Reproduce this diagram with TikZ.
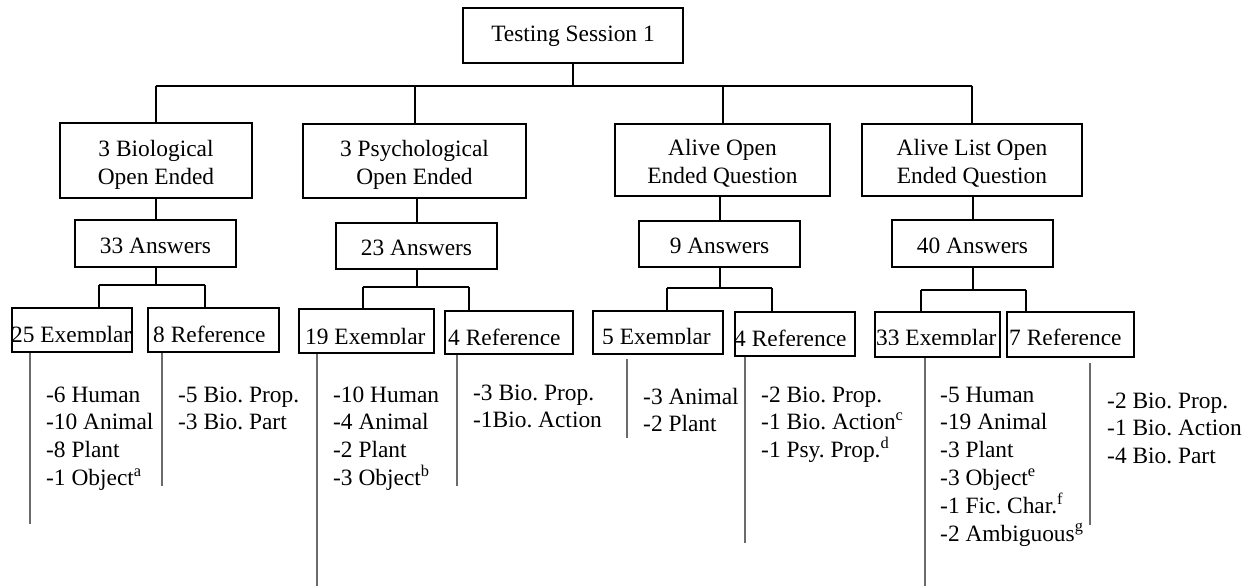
\documentclass[tikz,border=0pt]{standalone}
\usepackage{fontspec}
\setmainfont{Liberation Serif}
\usetikzlibrary{calc}
\frenchspacing

% framed box given by its corners, text centred and lowered by #7
\newcommand\framedbox[7]{%
  \node[framebox, minimum width={(#4-#2)*1pt}, minimum height={(#5-#3)*1pt}]
    (#1) at ({(#2+#4)/2},{(#3+#5)/2}) {};
  \node[inner sep=0pt, align=center] (#1-t) at ([yshift=-#7pt]#1.center) {#6};}

% category box whose label is cut off by the frame and just below the baseline
\newcommand\catbox[8]{%
  \begin{scope}
    \clip (#2,#3) rectangle (#4,#7);
    \node[anchor=base west, inner sep=0pt] (#1-t) at (#6,#7+1) {#8};
  \end{scope}
  \node[framebox, minimum width={(#4-#2)*1pt}, minimum height={(#5-#3)*1pt}]
    (#1) at ({(#2+#4)/2},{(#3+#5)/2}) {};}

% tally list: name, x, baseline of first line, number of lines, text
\newcommand\tallylist[5]{%
  \node[listtext] (#1) at (#2,{#3+(#4-1)*27.8}) {#5};}

\begin{document}
\begin{tikzpicture}[x=1pt, y=-1pt,
  every node/.style={font=\fontsize{23.4}{27.8}\selectfont},
  framebox/.style={draw=black, line width=2pt, fill=none, inner sep=0pt},
  link/.style={draw=black, line width=2pt},
  tally/.style={draw=black!58, line width=1.8pt},
  listtext/.style={anchor=base west, inner sep=0pt, align=left}]

\useasboundingbox (0,0) rectangle (1255,586);

% root and question boxes
\framedbox{top}{463}{8}{683}{63}{Testing Session 1}{1}
\framedbox{q1}{60}{123}{252}{198}{3 Biological\\Open Ended}{4}
\framedbox{q2}{303}{124}{526}{198}{3 Psychological\\Open Ended}{4}
\framedbox{q3}{615}{124}{830}{196}{Alive Open\\Ended Question}{3}
\framedbox{q4}{862}{124}{1082}{196}{Alive List Open\\Ended Question}{3}

% answer counts
\framedbox{a1}{75}{220}{236}{267}{33 Answers}{2}
\framedbox{a2}{336}{223}{497}{269}{23 Answers}{2}
\framedbox{a3}{639}{221}{800}{267}{9 Answers}{2}
\framedbox{a4}{892}{220}{1053}{267}{40 Answers}{2}

% exemplar / reference boxes
\catbox{l1}{12}{308}{132}{352}{11}{341}{25 Exemplar}
\catbox{l2}{148}{308}{279}{352}{153}{341}{8 Reference}
\catbox{l3}{299}{309}{434}{353}{305}{343}{19 Exemplar}
\catbox{l4}{445}{311}{573}{354}{448}{344}{4 Reference}
\catbox{l5}{593}{311}{723}{354}{602}{343}{5 Exemplar}
\catbox{l6}{735}{312}{855}{356}{734}{345}{4 Reference}
\catbox{l7}{875}{312}{1000}{357}{876}{344}{33 Exemplar}
\catbox{l8}{1007}{312}{1134}{357}{1009}{344}{7 Reference}

% root to questions
\coordinate (bus) at (0,86);
\draw[link] (top.south) -- (top.south |- bus);
\draw[link] (q1.north |- bus) -- (q4.north |- bus);
\foreach \q in {q1,q2,q3,q4} \draw[link] (\q.north |- bus) -- (\q.north);

% questions to answer counts
\foreach \q/\a in {q1/a1,q2/a2,q3/a3,q4/a4}
  \draw[link] (\q.south -| \a.north) -- (\a.north);

% answer counts to exemplar / reference
\coordinate (b1l) at (99,285);  \coordinate (b1r) at (205,285);
\coordinate (b2l) at (363,287); \coordinate (b2r) at (469,287);
\coordinate (b3l) at (667,288); \coordinate (b3r) at (772,288);
\coordinate (b4l) at (921,290); \coordinate (b4r) at (1026,290);
\foreach \a/\bl/\br/\la/\lb in {a1/b1l/b1r/l1/l2, a2/b2l/b2r/l3/l4,
                                a3/b3l/b3r/l5/l6, a4/b4l/b4r/l7/l8}{
  \draw[link] (\a.south) -- (\a.south |- \bl);
  \draw[link] (\bl) -- (\br);
  \draw[link] (\bl) -- (\bl |- \la.north);
  \draw[link] (\br) -- (\br |- \lb.north);
}

% tally rules under each box
\coordinate (g1) at (30,524);
\coordinate (g2) at (162,486);
\coordinate (g3) at (317,586);
\coordinate (g4) at (457,486);
\coordinate (g5) at (627,438);
\coordinate (g6) at (745,543);
\coordinate (g7) at (925,586);
\coordinate (g8) at (1090,525);
\draw[tally] (l1.south -| g1) -- (g1);
\draw[tally] (l2.south -| g2) -- (g2);
\draw[tally] (l3.south -| g3) -- (g3);
\draw[tally] (l4.south -| g4) -- (g4);
\draw[tally] ([yshift=-4pt]l5.south -| g5) -- (g5);
\draw[tally] (l6.south -| g6) -- (g6);
\draw[tally] (l7.south -| g7) -- (g7);
\draw[tally] ([yshift=-5pt]l8.south -| g8) -- (g8);

% tallies
\tallylist{t1}{46}{402}{4}{-6 Human\\-10 Animal\\-8 Plant\\-1 Object\textsuperscript{a}}
\tallylist{t2}{178}{402}{2}{-5 Bio. Prop.\\-3 Bio. Part}
\tallylist{t3}{333}{402}{4}{-10 Human\\-4 Animal\\-2 Plant\\-3 Object\textsuperscript{b}}
\tallylist{t4}{473}{400}{2}{-3 Bio. Prop.\\-1Bio. Action}
\tallylist{t5}{643}{404}{2}{-3 Animal\\-2 Plant}
\tallylist{t6}{761}{402}{3}{-2 Bio. Prop.\\-1 Bio. Action\textsuperscript{c}\\-1 Psy. Prop.\textsuperscript{d}}
\tallylist{t7}{940}{402}{6}{-5 Human\\-19 Animal\\-3 Plant\\-3 Object\textsuperscript{e}\\-1 Fic. Char.\textsuperscript{f}\\-2 Ambiguous\textsuperscript{g}}
\tallylist{t8}{1107}{408}{3}{-2 Bio. Prop.\\-1 Bio. Action\\-4 Bio. Part}

\end{tikzpicture}
\end{document}
